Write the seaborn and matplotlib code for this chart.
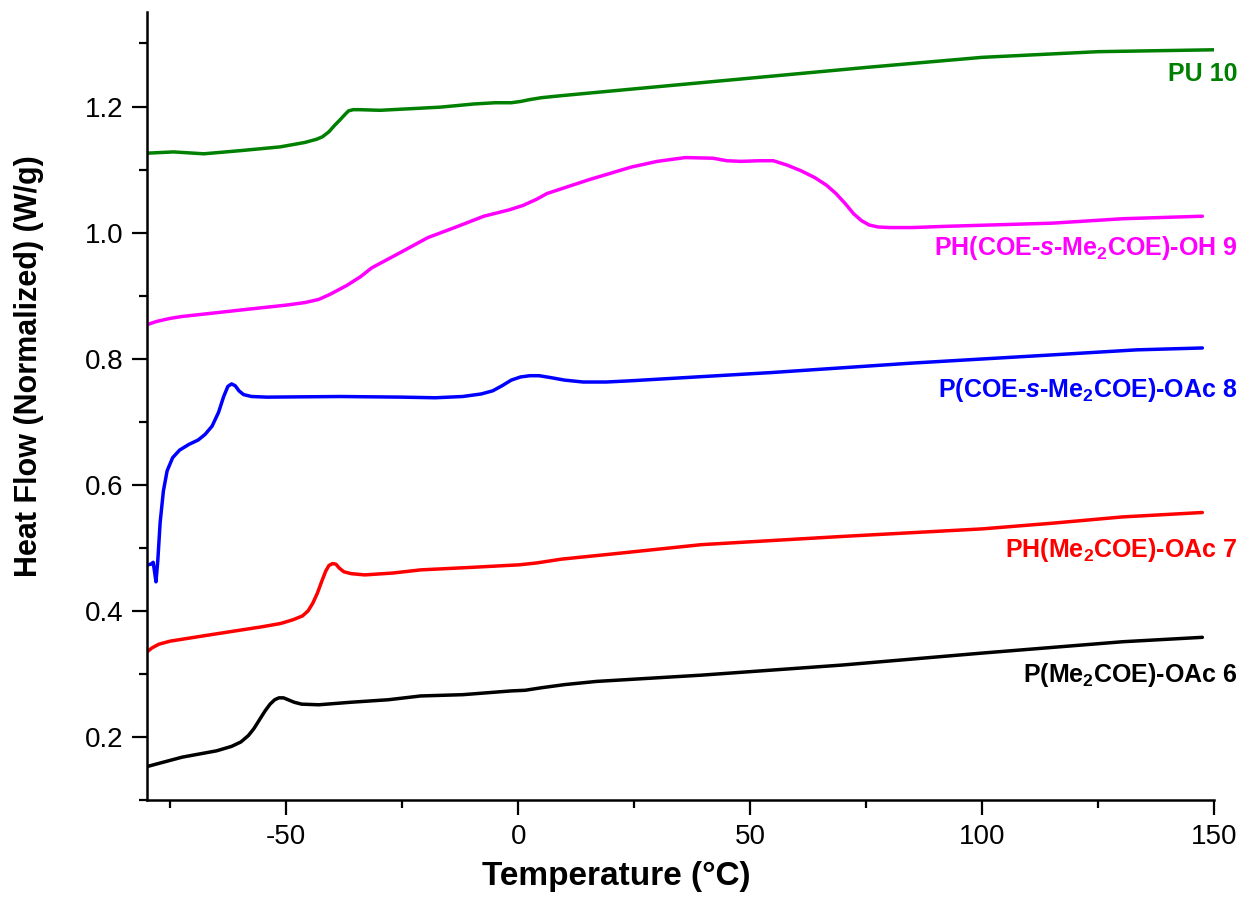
import numpy as np
import pandas as pd
import matplotlib
matplotlib.use("Agg")
import matplotlib.pyplot as plt
from matplotlib.ticker import MultipleLocator, FormatStrFormatter
import seaborn as sns


# DSC traces (temperature in degC, heat flow normalized W/g)
t_pu10 = [-80, -74.3, -67.8, -59.9, -51.3, -46, -43.5, -42.2, -40.8, -39.6, -38.4, -37.4,
          -36.6, -35.6, -34.1, -29.8, -16.8, -9.6, -5, -1.5, 0.5, 2.5, 5, 9.0, 25, 50, 75,
          100, 125, 150]
hf_pu10 = [1.126, 1.128, 1.125, 1.130, 1.136, 1.143, 1.148, 1.152, 1.160, 1.170, 1.179, 1.187,
           1.193, 1.195, 1.195, 1.194, 1.199, 1.204, 1.206, 1.206, 1.208, 1.211, 1.214, 1.217,
           1.228, 1.245, 1.262, 1.278, 1.287, 1.290]

t_oh9 = [-80, -78, -75, -72.4, -58.8, -50, -46, -43, -40.6, -37, -34, -31.6, -25, -19.5,
         -13, -7.4, -2, 1.0, 4, 6.2, 15.3, 24.4, 30, 36, 42, 45, 48, 52, 55, 58, 61, 64,
         66.5, 68.5, 70.5, 72.3, 74, 75.7, 77.5, 80, 85, 92.4, 115.2, 130.3, 147.5]
hf_oh9 = [0.854, 0.859, 0.864, 0.867, 0.878, 0.885, 0.889, 0.894, 0.902, 0.916, 0.930, 0.944,
          0.970, 0.992, 1.010, 1.026, 1.036, 1.043, 1.053, 1.062, 1.084, 1.104, 1.113, 1.119,
          1.118, 1.114, 1.113, 1.114, 1.114, 1.107, 1.098, 1.087, 1.075, 1.062, 1.046, 1.030,
          1.019, 1.012, 1.009, 1.008, 1.008, 1.010, 1.015, 1.022, 1.026]

t_oac8 = [-80, -79.2, -78.7, -78.4, -78.1, -77.7, -77.2, -76.5, -75.7, -74.5, -73, -71,
          -69, -67.5, -66, -64.6, -63.5, -62.6, -61.8, -61.0, -60.2, -59.2, -57.5, -54.2,
          -38.4, -25, -17.9, -12, -8, -5.5, -3.5, -1.5, 0.5, 2.5, 4.5, 7, 10, 14, 19, 24.4,
          54.6, 84.9, 115.1, 133.3, 147.5]
hf_oac8 = [0.473, 0.474, 0.477, 0.462, 0.446, 0.480, 0.540, 0.590, 0.622, 0.643, 0.655, 0.664,
           0.671, 0.680, 0.693, 0.715, 0.740, 0.756, 0.760, 0.757, 0.749, 0.743, 0.740, 0.739,
           0.740, 0.739, 0.738, 0.740, 0.744, 0.749, 0.757, 0.766, 0.771, 0.773, 0.773, 0.770,
           0.766, 0.763, 0.763, 0.765, 0.778, 0.793, 0.806, 0.814, 0.817]

t_oac7 = [-80, -79, -77.5, -75, -66.4, -55, -51.2, -48.5, -46.5, -45.3, -44.3, -43.3, -42.4,
          -41.5, -40.8, -40.0, -39.3, -38.6, -37.6, -36, -33.1, -27, -21, -10, 0.2, 4,
          9.3, 20, 39.5, 69.8, 100, 115.1, 130.3, 147.5]
hf_oac7 = [0.335, 0.341, 0.347, 0.352, 0.362, 0.375, 0.380, 0.386, 0.392, 0.400, 0.412, 0.428,
           0.446, 0.463, 0.472, 0.475, 0.474, 0.468, 0.462, 0.459, 0.457, 0.460, 0.465, 0.469,
           0.473, 0.476, 0.482, 0.490, 0.505, 0.518, 0.530, 0.539, 0.549, 0.556]

t_oac6 = [-80, -78, -72.4, -65, -61.8, -59.8, -58.2, -57, -55.8, -54.6, -53.5, -52.5, -51.6,
          -50.6, -49.6, -48.3, -46.7, -43, -36.1, -28, -21, -12, -5, -1.5, 1.5, 5, 10, 16.8,
          39.5, 69.8, 100, 130.3, 147.5]
hf_oac6 = [0.153, 0.157, 0.168, 0.178, 0.185, 0.192, 0.202, 0.213, 0.227, 0.241, 0.252, 0.259,
           0.262, 0.262, 0.259, 0.255, 0.252, 0.251, 0.255, 0.259, 0.265, 0.267, 0.271, 0.273,
           0.274, 0.278, 0.283, 0.288, 0.298, 0.314, 0.333, 0.351, 0.358]

labels = ["PU 10",
          r"PH(COE-$\mathit{s}$-Me$_2$COE)-OH 9",
          r"P(COE-$\mathit{s}$-Me$_2$COE)-OAc 8",
          r"PH(Me$_2$COE)-OAc 7",
          r"P(Me$_2$COE)-OAc 6"]
colors = ["#008000", "#FF00FF", "#0000FF", "#FF0000", "#000000"]
label_y = [1.252, 0.975, 0.751, 0.497, 0.298]

series = [(t_pu10, hf_pu10), (t_oh9, hf_oh9), (t_oac8, hf_oac8), (t_oac7, hf_oac7), (t_oac6, hf_oac6)]


sns.set_style("ticks", {'axes.edgecolor': 'black', 'xtick.color': 'black',
                        'ytick.color': 'black', 'text.color': 'black',
                        'axes.labelcolor': 'black'})
plt.rcParams['font.family'] = ['Liberation Sans', 'DejaVu Sans']
plt.rcParams['axes.unicode_minus'] = False
plt.rcParams['mathtext.fontset'] = 'custom'
plt.rcParams['mathtext.rm'] = 'Liberation Sans:bold'
plt.rcParams['mathtext.bf'] = 'Liberation Sans:bold'
plt.rcParams['mathtext.it'] = 'Liberation Sans:italic:bold'

fig, ax = plt.subplots(figsize=(12.47, 9.13), dpi=100)
fig.subplots_adjust(left=0.118, right=0.9735, bottom=0.1238, top=0.9869)

for (t, hf), c in zip(series, colors):
    df = pd.DataFrame({'T': t, 'HF': hf})
    sns.lineplot(data=df, x='T', y='HF', color=c, lw=2.5, ax=ax, sort=False)

# rótulos das curvas à direita
for lab, c, y in zip(labels, colors, label_y):
    ax.text(155, y, lab, color=c, ha='right', va='center', fontsize=18,
            fontweight='bold', clip_on=False)

ax.set_xlim(-80, 150)
ax.set_ylim(0.1, 1.35)
ax.xaxis.set_major_locator(MultipleLocator(50))
ax.xaxis.set_minor_locator(MultipleLocator(25))
ax.yaxis.set_major_locator(MultipleLocator(0.2))
ax.yaxis.set_minor_locator(MultipleLocator(0.1))
ax.yaxis.set_major_formatter(FormatStrFormatter('%.1f'))
ax.tick_params(which='major', direction='out', length=11, width=1.6, labelsize=20, pad=6)
ax.tick_params(which='minor', direction='out', length=6, width=1.6)
for s in ['left', 'bottom']:
    ax.spines[s].set_linewidth(1.8)
sns.despine(ax=ax)

ax.set_xlabel('Temperature (°C)', fontsize=24, fontweight='bold')
ax.set_ylabel('Heat Flow (Normalized) (W/g)', fontsize=22, fontweight='bold')
ax.xaxis.set_label_coords(0.44, -0.077)
ax.yaxis.set_label_coords(-0.097, 0.55)

fig.savefig('out.png', dpi=100)
